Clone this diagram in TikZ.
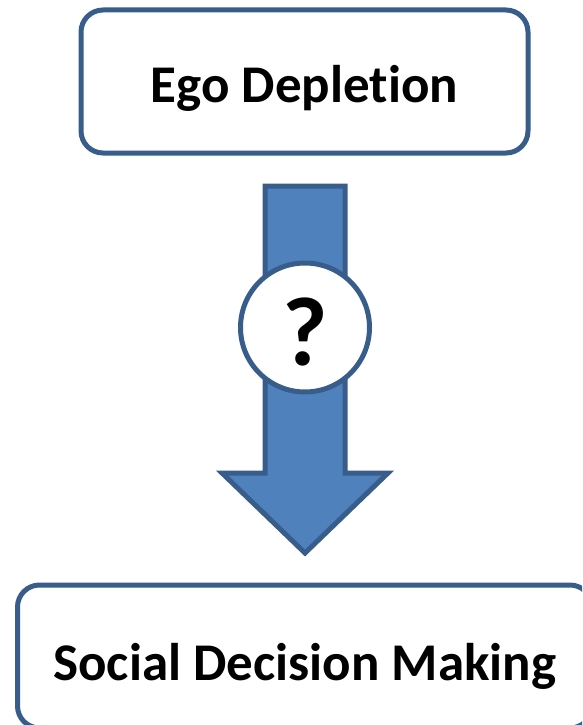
\documentclass[tikz,border=0pt]{standalone}
\usepackage{fontspec}
\setmainfont{Carlito}[Ligatures=NoCommon]
\definecolor{edgeblue}{HTML}{385D8A}
\definecolor{fillblue}{HTML}{4F81BD}
\begin{document}
\begin{tikzpicture}[x=1pt,y=-1pt,
  box/.style={draw=edgeblue, line width=5pt, rounded corners=22pt, fill=white,
    inner sep=0pt, outer sep=0pt, font=\bfseries\fontsize{53}{60}\selectfont, text depth=0pt},
  blockarrow/.style={draw=edgeblue, fill=fillblue, line width=5pt, line join=miter},
  ring/.style={circle, draw=edgeblue, line width=5pt, fill=white, inner sep=0pt,
    minimum size=129pt, font=\bfseries\fontsize{98}{100}\selectfont, text depth=0pt, text height=75pt}]
  \useasboundingbox (0,0) rectangle (582,725);
  \begin{scope}
    \clip (0,0) rectangle (582,725);
    % cause and effect boxes
    \node[box, minimum width=447pt, minimum height=143pt, text height=41pt]
      (ego) at (304.5,81.5) {Ego Depletion};
    \node[box, minimum width=574.5pt, minimum height=143pt, text height=47pt]
      (sdm) at (304.75,656.5) {Social Decision Making};
    % block arrow between them
    \coordinate (tl) at (265,186);
    \coordinate (tr) at (345,186);
    \draw[blockarrow] (tl) -- (tr) -- (345,473) -- (388,473) -- (305,553)
      -- (222,473) -- (265,473) -- cycle;
    % open question on the link
    \node[ring] (q) at (305,327.5) {?};
  \end{scope}
\end{tikzpicture}
\end{document}
